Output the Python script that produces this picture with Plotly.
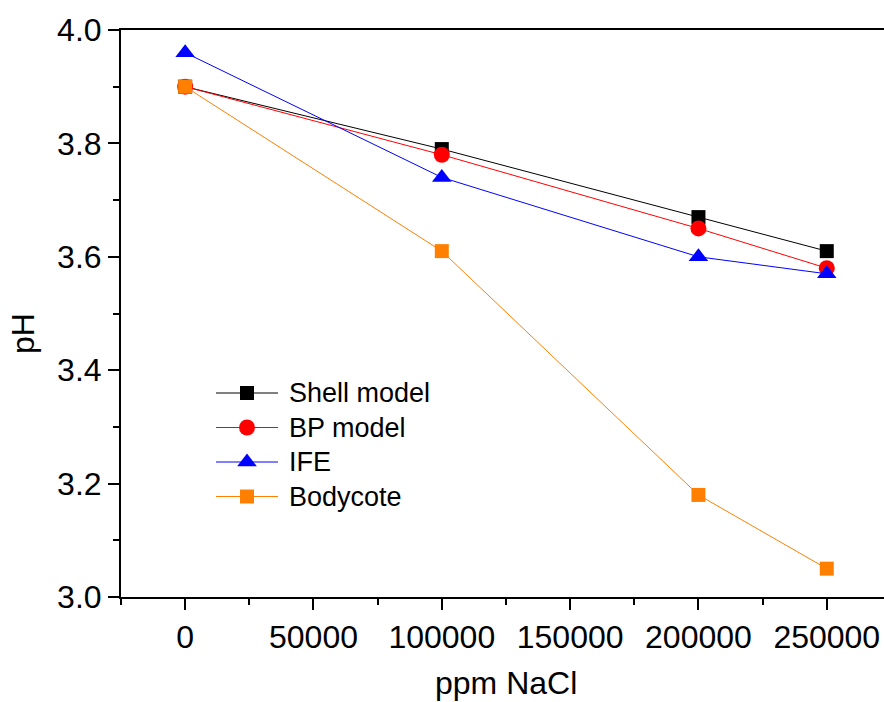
import plotly.graph_objects as go

ppm_nacl = [0, 100000, 200000, 250000]
shell_model = [3.90, 3.79, 3.67, 3.61]
bp_model = [3.90, 3.78, 3.65, 3.58]
ife = [3.96, 3.74, 3.60, 3.57]
bodycote = [3.90, 3.61, 3.18, 3.05]
series_names = ["Shell model", "BP model", "IFE", "Bodycote"]

styles = [
    ("#000000", "square", 14),
    ("#ff0000", "circle", 16),
    ("#0000ff", "triangle-up", 17),
    ("#ff8000", "square", 14),
]
values = [shell_model, bp_model, ife, bodycote]

font = "Liberation Sans, Arial, sans-serif"
fig = go.Figure()
for name, vals, (color, sym, size) in zip(series_names, values, styles):
    fig.add_trace(go.Scatter(
        x=ppm_nacl, y=vals, name=name, mode="lines+markers",
        line=dict(color=color, width=1),
        marker=dict(symbol=sym, size=size, color=color, line=dict(width=0)),
        showlegend=False,
    ))

# Hand-built legend on an overlay axis measured in plot pixels
LEG_X0, LEG_X1, LEG_TXT = 216, 278, 287
LEG_TOP, LEG_STEP = 393, 34.5
annotations = []
for i, (name, (color, sym, size)) in enumerate(zip(series_names, styles)):
    yy = LEG_TOP + i * LEG_STEP
    fig.add_trace(go.Scatter(
        x=[LEG_X0, LEG_X1], y=[yy, yy], mode="lines", xaxis="x2", yaxis="y2",
        line=dict(color=color, width=1), showlegend=False, hoverinfo="skip"))
    fig.add_trace(go.Scatter(
        x=[(LEG_X0 + LEG_X1) / 2], y=[yy], mode="markers", xaxis="x2", yaxis="y2",
        marker=dict(symbol=sym, size=size, color=color, line=dict(width=0)),
        showlegend=False, hoverinfo="skip"))
    annotations.append(dict(
        x=LEG_TXT, y=yy, xref="x2", yref="y2", text=name, showarrow=False,
        xanchor="left", yanchor="middle", font=dict(size=27, family=font)))

# Axis titles
annotations.append(dict(
    x=(506 - 121) / 763, y=(597 - 683) / 567, xref="paper", yref="paper",
    text="ppm NaCl", showarrow=False, xanchor="center", yanchor="middle",
    font=dict(size=32, family=font)))
annotations.append(dict(
    x=(23 - 121) / 763, y=(597 - 334) / 567, xref="paper", yref="paper",
    text="pH", showarrow=False, xanchor="center", yanchor="middle",
    textangle=-90, font=dict(size=32, family=font)))

fig.update_layout(
    width=884, height=702,
    margin=dict(l=121, r=0, t=30, b=105, autoexpand=False),
    plot_bgcolor="white", paper_bgcolor="white",
    font=dict(family=font, size=32, color="black"),
    showlegend=False,
    annotations=annotations,
    xaxis=dict(
        range=[-25000, 272300], tickmode="linear", tick0=0, dtick=50000,
        tickformat="d", automargin=False,
        showgrid=False, zeroline=False, showline=True, linecolor="black",
        linewidth=2, mirror=True, ticks="outside", ticklen=11, tickwidth=2,
        tickcolor="black", tickfont=dict(size=32),
        minor=dict(dtick=25000, tick0=0, ticks="outside", ticklen=6,
                   tickwidth=2, tickcolor="black", showgrid=False),
    ),
    yaxis=dict(
        range=[3.0, 4.0], tickmode="linear", tick0=3.0, dtick=0.2,
        tickformat=".1f", automargin=False,
        showgrid=False, zeroline=False, showline=True, linecolor="black",
        linewidth=2, ticks="outside", ticklen=11, tickwidth=2,
        tickcolor="black", tickfont=dict(size=32),
        minor=dict(dtick=0.1, ticks="outside", ticklen=6, tickwidth=2,
                   tickcolor="black", showgrid=False),
    ),
    xaxis2=dict(overlaying="x", range=[121, 884], visible=False,
                fixedrange=True),
    yaxis2=dict(overlaying="y", range=[597, 30], visible=False,
                fixedrange=True),
)

fig.write_html(
    "out.html",
    config={"displayModeBar": False},
    post_script="document.body.style.margin='0';document.body.style.overflow='hidden';",
)
